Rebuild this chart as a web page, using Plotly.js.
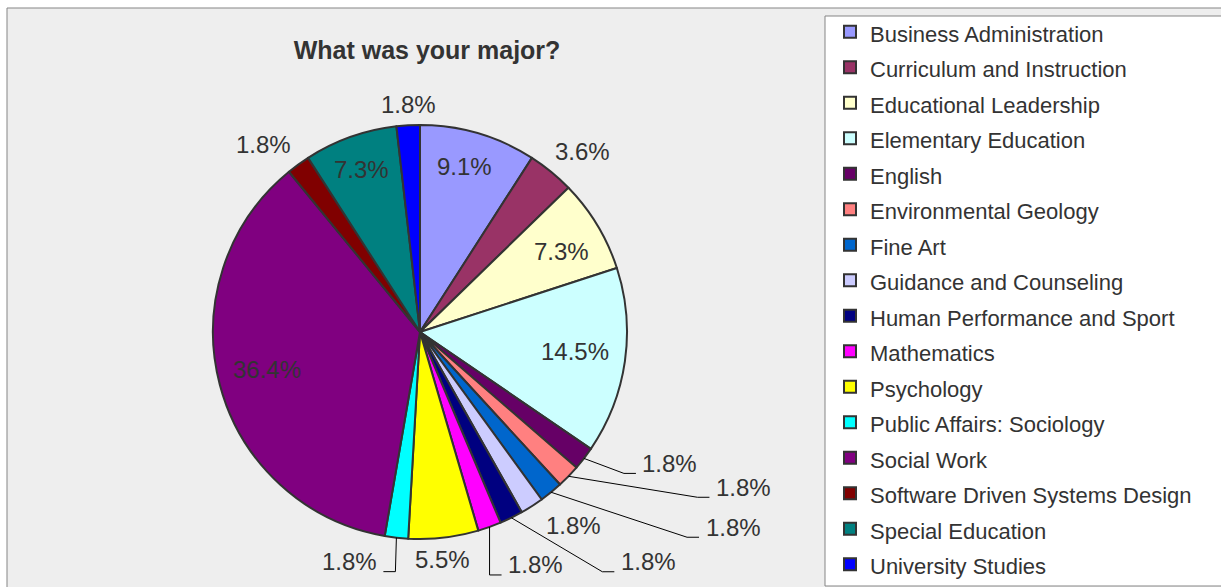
<!DOCTYPE html>
<html>
<head>
<meta charset="utf-8">
<script src="https://cdn.plot.ly/plotly-3.0.1.min.js"></script>
<style>
html,body{margin:0;padding:0;background:#ffffff;}
#chart{width:1221px;height:587px;}
</style>
</head>
<body>
<div id="chart"></div>
<script>
// ---- data ----
const majors = [
  "Business Administration","Curriculum and Instruction","Educational Leadership",
  "Elementary Education","English","Environmental Geology","Fine Art",
  "Guidance and Counseling","Human Performance and Sport","Mathematics",
  "Psychology","Public Affairs: Sociology","Social Work",
  "Software Driven Systems Design","Special Education","University Studies"
];
const counts = [5,2,4,8,1,1,1,1,1,1,3,1,20,1,4,1];

// ---- style ----
const sliceColors = [
  "#9999FF","#993366","#FFFFCC","#CCFFFF","#660066","#FF8080","#0066CC",
  "#CCCCFF","#000080","#FF00FF","#FFFF00","#00FFFF","#800080","#800000",
  "#008080","#0000FF"
];
// label offset (px) from the slice's outer-edge mid point
const labelOffsets = [
  [-14,33],[31,-20],[-36,26],[-50,-10],[86,5],[175,11],[182,35],[42,19],
  [137,44],[46,38],[-1,22],[-47,24],[47,-15],[-35,-20],[11,32],[0,-21]
];
// leader line side: 0 none, -1 line ends left of label, +1 right of label
const leaderSide = [0,0,0,0,-1,-1,-1,0,-1,-1,0,1,0,0,0,0];

const W = 1221, H = 587;
const cx = 420, cy = 332, r = 207;
const FONT = "Liberation Sans, Arial, Helvetica, sans-serif";
const TXT = "#333333";

const total = counts.reduce((a, b) => a + b, 0);
const px2x = p => p / W;
const py2y = p => 1 - p / H;

const annotations = [];
const shapes = [
  {type: "rect", xref: "paper", yref: "paper", layer: "below",
   x0: px2x(7), x1: 1.05, y0: -0.05, y1: py2y(8),
   fillcolor: "#eeeeee", line: {color: "#858585", width: 1}},
  {type: "rect", xref: "paper", yref: "paper", layer: "above",
   x0: px2x(825), x1: 1.05, y0: py2y(586), y1: py2y(16),
   fillcolor: "#ffffff", line: {color: "#858585", width: 1}}
];

let cum = 0;
counts.forEach((v, i) => {
  const mid = (cum + v / 2) / total;
  cum += v;
  const th = 2 * Math.PI * mid;
  const ex = cx + r * Math.sin(th), ey = cy - r * Math.cos(th);
  const lx = ex + labelOffsets[i][0], ly = ey + labelOffsets[i][1];
  annotations.push({
    xref: "paper", yref: "paper", x: px2x(lx), y: py2y(ly),
    xanchor: "center", yanchor: "middle", showarrow: false,
    text: (100 * v / total).toFixed(1) + "%",
    font: {family: FONT, size: 24, color: TXT}
  });
  if (leaderSide[i] !== 0) {
    const s = leaderSide[i];
    const endX = lx + s * 34, endY = ly + 10;
    const cornerX = endX + s * 12;
    shapes.push({
      type: "path", xref: "paper", yref: "paper", layer: "above",
      path: `M ${px2x(ex)} ${py2y(ey)} L ${px2x(cornerX)} ${py2y(endY)} L ${px2x(endX)} ${py2y(endY)}`,
      line: {color: "#000000", width: 1}
    });
  }
});

const trace = {
  type: "pie",
  labels: majors.map(m => '<span style="font-size:22px">' + m + '</span>'),
  values: counts,
  sort: false,
  direction: "clockwise",
  rotation: 0,
  marker: {colors: sliceColors, line: {color: "#333333", width: 2}},
  textinfo: "none",
  hoverinfo: "label+percent",
  domain: {x: [(cx - r) / W, (cx + r) / W], y: [(H - cy - r) / H, (H - cy + r) / H]},
  automargin: false
};

const layout = {
  width: W, height: H,
  margin: {l: 0, r: 0, t: 0, b: 0},
  paper_bgcolor: "#ffffff",
  title: {
    text: "<b>What was your major?</b>",
    font: {family: FONT, size: 25, color: TXT},
    x: px2x(427), xanchor: "center", y: py2y(50), yanchor: "middle"
  },
  showlegend: true,
  legend: {
    x: px2x(830), xanchor: "left", y: py2y(13), yanchor: "top",
    bgcolor: "rgba(0,0,0,0)", borderwidth: 0,
    font: {family: FONT, size: 25, color: TXT},
    traceorder: "normal"
  },
  annotations: annotations,
  shapes: shapes
};

Plotly.newPlot("chart", [trace], layout, {displayModeBar: false, staticPlot: true});
</script>
</body>
</html>
